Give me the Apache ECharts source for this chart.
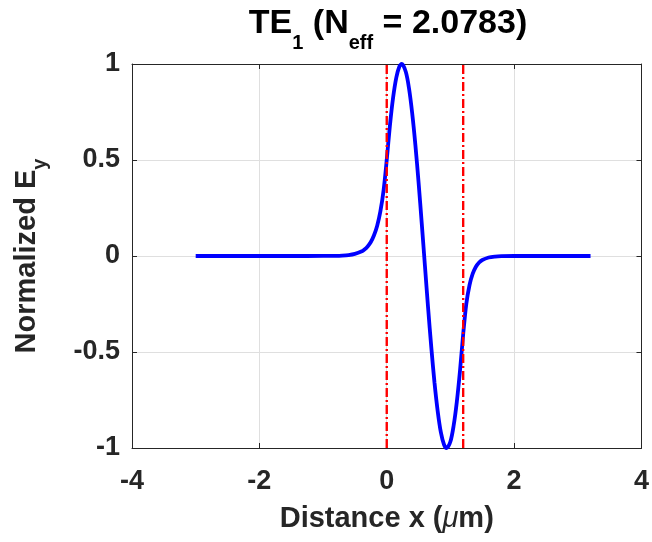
<!DOCTYPE html>
<html>
<head>
<meta charset="utf-8">
<script src="https://cdn.jsdelivr.net/npm/echarts@6/dist/echarts.min.js"></script>
<style>
  html, body { margin: 0; padding: 0; background: #ffffff; }
  #chart { width: 652px; height: 542px; }
</style>
</head>
<body>
<div id="chart"></div>
<script>
// TE1 guided mode of a 1.2 um slab: normalized transverse field Ey across the guide

// Transverse position (um)
const distance = [-3, -2, -1.5, -1, -0.8, -0.7, -0.6, -0.5, -0.4, -0.35,
  -0.3, -0.25, -0.2, -0.15, -0.1, -0.05, 0, 0.05, 0.1, 0.15,
  0.2, 0.235, 0.3, 0.35, 0.4, 0.45, 0.5, 0.55, 0.6, 0.65,
  0.7, 0.75, 0.8, 0.85, 0.9, 0.94, 1.0, 1.05, 1.1, 1.15,
  1.2, 1.25, 1.3, 1.35, 1.4, 1.45, 1.5, 1.6, 1.7, 1.8,
  2.0, 2.5, 3.2];

// Normalized Ey at each position
const fieldEy = [0, 0, 0, 0.0002, 0.001, 0.0023, 0.005, 0.011, 0.023, 0.034,
  0.050, 0.073, 0.108, 0.158, 0.232, 0.341, 0.501, 0.680, 0.825, 0.929,
  0.988, 1.0, 0.958, 0.872, 0.742, 0.577, 0.382, 0.168, -0.053, -0.273,
  -0.478, -0.660, -0.808, -0.919, -0.983, -1.0, -0.966, -0.884, -0.760, -0.598,
  -0.408, -0.248, -0.151, -0.092, -0.056, -0.034, -0.021, -0.008, -0.003, -0.001,
  -0.0001, 0, 0];

// Core boundaries (um)
const coreEdges = [0, 1.2];

// Axis ticks
const xTicks = [-4, -2, 0, 2, 4];
const yTicks = [-1, -0.5, 0, 0.5, 1];

const modeName = 'TE';
const modeOrder = '1';
const effectiveIndex = '2.0783';

const FONT = "'Liberation Sans', Arial, Helvetica, sans-serif";
const INK = '#262626';

const chart = echarts.init(document.getElementById('chart'), null, { renderer: 'canvas' });

const xMin = xTicks[0], xMax = xTicks[xTicks.length - 1];
const yMin = yTicks[0], yMax = yTicks[yTicks.length - 1];
const xStep = xTicks[1] - xTicks[0];
const yStep = yTicks[1] - yTicks[0];

function boxAxis(base) {
  return Object.assign({
    type: 'value',
    axisLine: { show: true, onZero: false, lineStyle: { color: INK, width: 1 } },
    axisTick: { show: true, inside: true, length: 5, lineStyle: { color: INK, width: 1 } },
    splitLine: { show: false },
    axisLabel: { show: false }
  }, base);
}

const series = [{
  type: 'line',
  data: distance.map((x, i) => [x, fieldEy[i]]),
  showSymbol: false,
  smooth: 0.3,
  lineStyle: { color: '#0000ff', width: 3.8 },
  z: 3
}];

coreEdges.forEach(edge => {
  series.push({
    type: 'line',
    data: [[edge, yMin], [edge, yMax]],
    showSymbol: false,
    lineStyle: { color: '#ff0000', width: 2.4, type: [9, 3, 2, 3] },
    z: 4
  });
});

const option = {
  animation: false,
  backgroundColor: '#ffffff',
  textStyle: { fontFamily: FONT },
  title: {
    text: '{m|' + modeName + '}{s|' + modeOrder + '}{m| (N}{s|eff}{m| = ' + effectiveIndex + ')}',
    left: 388,
    top: 7,
    padding: 0,
    textAlign: 'center',
    textStyle: {
      rich: {
        m: { fontFamily: FONT, fontSize: 34, fontWeight: 'bold', color: '#000000', lineHeight: 36, verticalAlign: 'top' },
        s: { fontFamily: FONT, fontSize: 20, fontWeight: 'bold', color: '#000000', lineHeight: 20, verticalAlign: 'top', padding: [26, 0, 0, 0] }
      }
    }
  },
  grid: { left: 132, top: 64, width: 512, height: 384, containLabel: false },
  xAxis: [
    boxAxis({
      position: 'bottom',
      min: xMin, max: xMax, interval: xStep,
      splitLine: { show: true, lineStyle: { color: '#dfdfdf', width: 1 } },
      axisLabel: {
        show: true, margin: 20, color: INK, fontFamily: FONT, fontSize: 27, fontWeight: 'bold',
        showMinLabel: true, showMaxLabel: true
      },
      name: '{m|Distance x (}{i|\u03bc}{m|m)}',
      nameLocation: 'middle',
      nameGap: 56,
      nameTextStyle: {
        rich: {
          m: { fontFamily: FONT, fontSize: 29, fontWeight: 'bold', color: INK },
          i: { fontFamily: FONT, fontSize: 29, fontStyle: 'italic', fontWeight: 'normal', color: INK }
        }
      }
    }),
    boxAxis({ position: 'top', min: xMin, max: xMax, interval: xStep })
  ],
  yAxis: [
    boxAxis({
      position: 'left',
      min: yMin, max: yMax, interval: yStep,
      splitLine: { show: true, lineStyle: { color: '#dfdfdf', width: 1 } },
      axisLabel: {
        show: true, margin: 12, color: INK, fontFamily: FONT, fontSize: 27, fontWeight: 'bold',
        showMinLabel: true, showMaxLabel: true
      },
      name: '{m|Normalized E}{s|y}',
      nameLocation: 'middle',
      nameRotate: 90,
      nameGap: 88,
      nameTextStyle: {
        rich: {
          m: { fontFamily: FONT, fontSize: 29, fontWeight: 'bold', color: INK, lineHeight: 32, verticalAlign: 'top' },
          s: { fontFamily: FONT, fontSize: 20, fontWeight: 'bold', color: INK, lineHeight: 20, verticalAlign: 'top', padding: [18, 0, 0, 0] }
        }
      }
    }),
    boxAxis({ position: 'right', min: yMin, max: yMax, interval: yStep })
  ],
  series: series
};

chart.setOption(option);
</script>
</body>
</html>
